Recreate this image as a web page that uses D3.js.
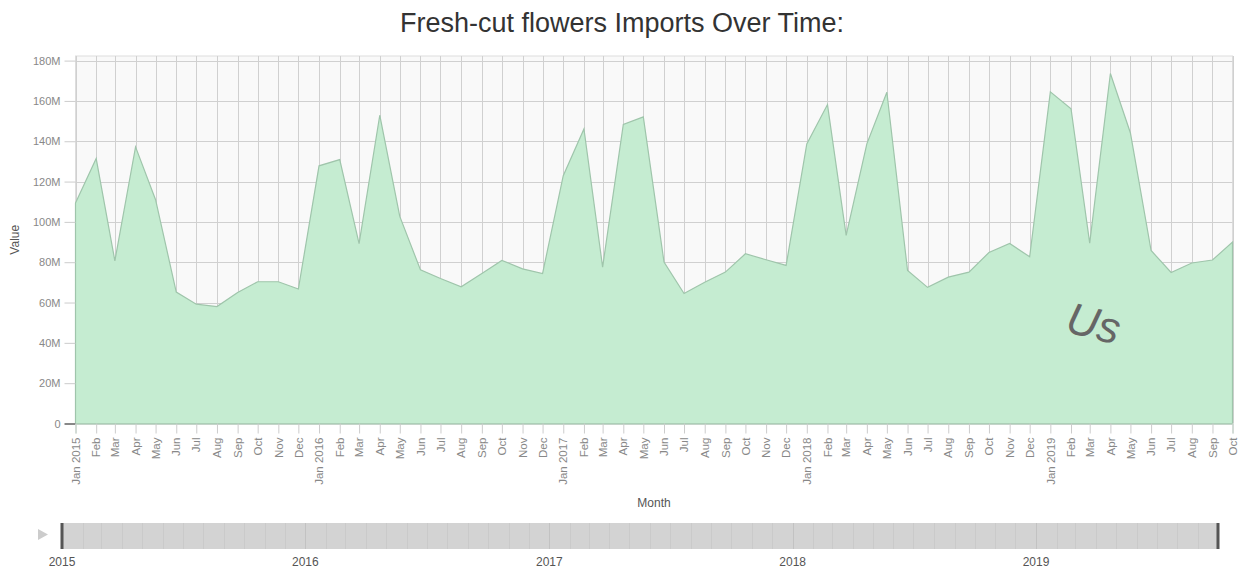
<!DOCTYPE html>
<html>
<head>
<meta charset="utf-8">
<script src="https://cdn.jsdelivr.net/npm/d3@7"></script>
<style>
  body { margin: 0; background: #fff; }
  svg text { font-family: "Helvetica Neue", "Liberation Sans", Arial, sans-serif; }
</style>
</head>
<body>
<div id="chart"></div>
<script>
// Monthly imports, Jan 2015 .. Oct 2019 (values in millions)
const startMonth = "2015-01";
const values2015 = [109.4, 131.4, 80.7, 137.2, 111.0, 65.2, 59.2, 58.0, 65.0, 70.3, 70.3, 66.7];
const values2016 = [127.8, 130.9, 89.2, 152.9, 102.7, 76.2, 71.9, 67.8, 74.4, 80.9, 76.7, 74.4];
const values2017 = [122.9, 146.1, 77.6, 148.3, 152.1, 80.1, 64.5, 70.1, 75.1, 84.2, 81.2, 78.4];
const values2018 = [138.7, 158.2, 93.3, 138.7, 164.3, 75.9, 67.5, 72.6, 75.1, 84.8, 89.3, 82.7];
const values2019 = [164.5, 156.1, 89.5, 173.6, 144.1, 85.8, 74.9, 79.6, 81.1, 90.0];
const sliderYears = ["2015", "2016", "2017", "2018", "2019"];
const seriesName = "Us";

const width = 1244,
      height = 569;
const plot = { left: 75.5, right: 1232.5, top: 56, bottom: 423.5 };

const parseMonth = d3.timeParse("%Y-%m");
const allValues = [].concat(values2015, values2016, values2017, values2018, values2019);
const start = parseMonth(startMonth);
const data = allValues.map((v, i) => ({ date: d3.timeMonth.offset(start, i), value: v * 1e6 }));

const svg = d3.select("#chart").append("svg")
    .attr("width", width)
    .attr("height", height);

const x = d3.scaleTime()
    .domain(d3.extent(data, d => d.date))
    .range([plot.left, plot.right]);

const y = d3.scaleLinear()
    .domain([0, d3.max(data, d => d.value) * 1.05])
    .range([plot.bottom, plot.top]);

// title
svg.append("text")
    .attr("x", width / 2)
    .attr("y", 32)
    .attr("text-anchor", "middle")
    .style("font-size", "27px")
    .attr("fill", "#333")
    .text("Fresh-cut flowers Imports Over Time:");

// plot background
svg.append("rect")
    .attr("x", plot.left)
    .attr("y", plot.top)
    .attr("width", plot.right - plot.left)
    .attr("height", plot.bottom - plot.top)
    .attr("fill", "#f9f9f9")
    .attr("stroke", "#ddd");

const monthTicks = d3.timeMonth.range(x.domain()[0], d3.timeMonth.offset(x.domain()[1], 1));
const yTicks = d3.range(0, 180e6 + 1, 20e6);

// grid
const grid = svg.append("g").attr("stroke", "#d0d0d0").attr("stroke-width", 1);
grid.selectAll(".vgrid")
    .data(monthTicks)
    .join("line")
    .attr("x1", d => Math.round(x(d)) + 0.5)
    .attr("x2", d => Math.round(x(d)) + 0.5)
    .attr("y1", plot.top)
    .attr("y2", plot.bottom);
grid.selectAll(".hgrid")
    .data(yTicks)
    .join("line")
    .attr("x1", plot.left)
    .attr("x2", plot.right)
    .attr("y1", d => Math.round(y(d)) + 0.5)
    .attr("y2", d => Math.round(y(d)) + 0.5);

// area
const area = d3.area()
    .x(d => x(d.date))
    .y0(y(0))
    .y1(d => y(d.value));

svg.append("path")
    .datum(data)
    .attr("d", area)
    .attr("fill", "#c5ecd1")
    .attr("stroke", "#9fc5ab")
    .attr("stroke-width", 1.2);

// y axis
const yAxis = svg.append("g")
    .attr("transform", `translate(${plot.left},0)`)
    .call(d3.axisLeft(y).tickValues(yTicks).tickFormat(d3.format("~s")).tickSize(11).tickPadding(4));
yAxis.select(".domain").remove();
yAxis.selectAll(".tick line").attr("stroke", d => d === 0 ? "#888" : "#ccc").attr("stroke-width", d => d === 0 ? 2 : 1);
yAxis.selectAll(".tick text").attr("fill", "#888").style("font-size", "11px");

svg.append("text")
    .attr("transform", `translate(19,${(plot.top + plot.bottom) / 2}) rotate(-90)`)
    .attr("text-anchor", "middle")
    .attr("fill", "#555")
    .style("font-size", "12px")
    .text("Value");

// x axis
const monthFmt = d => d.getMonth() === 0 ? d3.timeFormat("%b %Y")(d) : d3.timeFormat("%b")(d);
const xAxis = svg.append("g")
    .attr("transform", `translate(0,${plot.bottom})`)
    .call(d3.axisBottom(x).tickValues(monthTicks).tickFormat(monthFmt).tickSize(10));
xAxis.select(".domain").attr("stroke", "#b8d8c2");
xAxis.selectAll(".tick line").attr("stroke", "#ccc");
xAxis.selectAll(".tick text")
    .attr("fill", "#888")
    .style("font-size", "11.5px")
    .attr("text-anchor", "end")
    .attr("transform", "rotate(-90)")
    .attr("x", -14)
    .attr("y", 0)
    .attr("dy", "0.32em");

svg.append("text")
    .attr("x", (plot.left + plot.right) / 2)
    .attr("y", 507)
    .attr("text-anchor", "middle")
    .attr("fill", "#555")
    .style("font-size", "12px")
    .text("Month");

// series label
svg.append("text")
    .attr("transform", "translate(1090,338) rotate(14)")
    .attr("text-anchor", "middle")
    .attr("fill", "#666")
    .style("font-size", "44px")
    .style("font-weight", "300")
    .style("font-style", "italic")
    .text(seriesName);

// time slider
const slider = { left: 62, right: 1218, top: 523, bottom: 549 };
const sx = d3.scaleTime()
    .domain(x.domain())
    .range([slider.left, slider.right]);

svg.append("path")
    .attr("d", "M38,529L48,534.5L38,540Z")
    .attr("fill", "#ccc");

svg.append("rect")
    .attr("x", slider.left)
    .attr("y", slider.top)
    .attr("width", slider.right - slider.left)
    .attr("height", slider.bottom - slider.top)
    .attr("fill", "#d3d3d3");

svg.append("g")
    .selectAll("line")
    .data(monthTicks.slice(1, -1))
    .join("line")
    .attr("x1", d => Math.round(sx(d)) + 0.5)
    .attr("x2", d => Math.round(sx(d)) + 0.5)
    .attr("y1", slider.top)
    .attr("y2", slider.bottom)
    .attr("stroke", d => d.getMonth() === 0 ? "#c2c2c2" : "#cacaca");

svg.append("g")
    .selectAll("rect")
    .data(x.domain())
    .join("rect")
    .attr("x", d => sx(d) - 1.5)
    .attr("y", slider.top)
    .attr("width", 3)
    .attr("height", slider.bottom - slider.top)
    .attr("fill", "#555");

svg.append("g")
    .selectAll("text")
    .data(sliderYears)
    .join("text")
    .attr("x", d => sx(parseMonth(d + "-01")))
    .attr("y", 566)
    .attr("text-anchor", "middle")
    .attr("fill", "#555")
    .style("font-size", "12px")
    .text(d => d);
</script>
</body>
</html>
